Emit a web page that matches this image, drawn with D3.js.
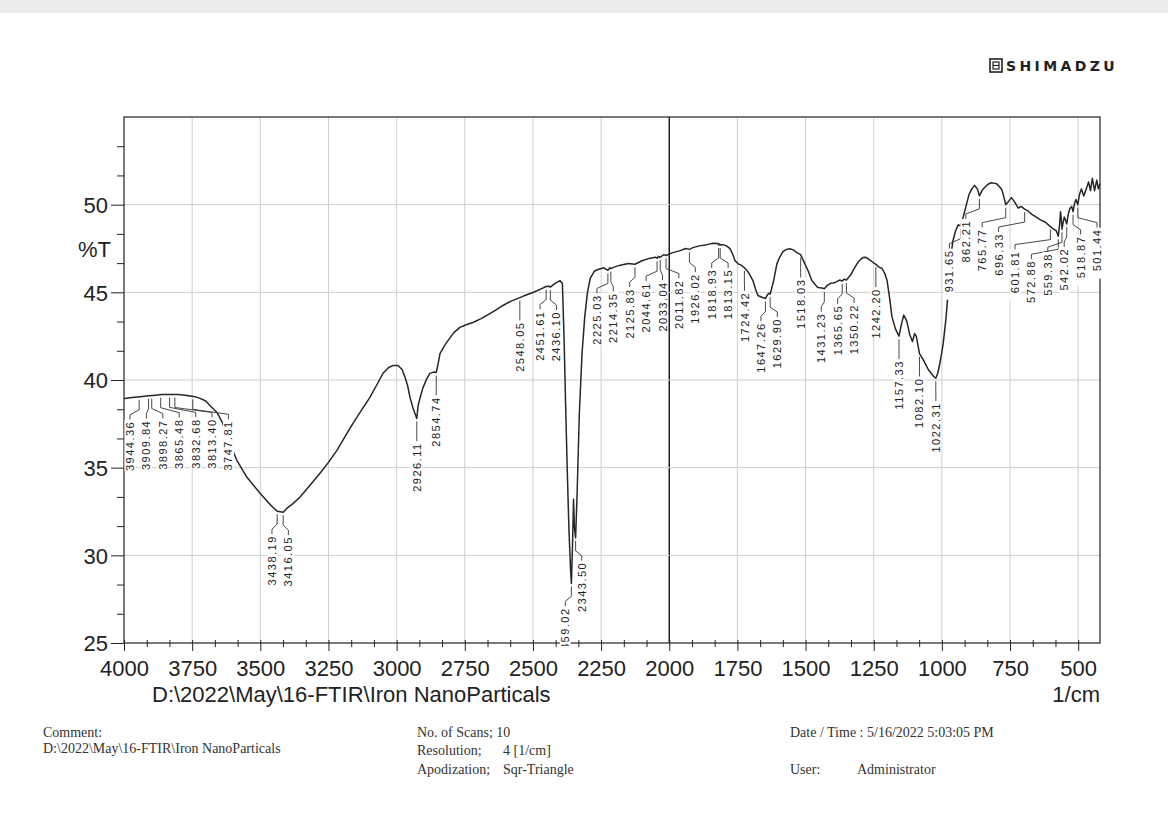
<!DOCTYPE html>
<html>
<head>
<meta charset="utf-8">
<script src="https://cdnjs.cloudflare.com/ajax/libs/d3/7.8.5/d3.min.js"></script>
<style>
  body { margin: 0; background: #fff; }
  svg { display: block; }
</style>
</head>
<body>
<div id="chart"></div>
<script>
// spectrum, wavenumber (1/cm) vs %T
const wavenumber = [
  4000, 3970, 3941, 3910, 3894, 3860, 3831, 3800, 3769, 3740, 3721, 3700, 3685, 3659, 3640, 3622, 3605, 3586,
  3549, 3501, 3470, 3454, 3438.19, 3416.05, 3402, 3380, 3355, 3320, 3281, 3250, 3219, 3190, 3160, 3130, 3098,
  3070, 3050, 3030, 3013, 2995, 2980, 2969, 2960, 2951, 2940, 2926.11, 2921, 2912, 2903, 2890, 2878, 2865,
  2854.74, 2848, 2841, 2825, 2811, 2790, 2768, 2745, 2720, 2690, 2658, 2635, 2610, 2580, 2548.05, 2525, 2500,
  2470, 2451.61, 2440, 2436.10, 2420, 2401, 2392, 2386, 2380, 2374, 2368, 2362, 2359.02, 2355, 2351, 2348,
  2343.50, 2338, 2330, 2320, 2310, 2300, 2290, 2275, 2262, 2240, 2225.03, 2218, 2214.35, 2200, 2180, 2150,
  2125.83, 2100, 2070, 2050, 2044.61, 2038, 2033.04, 2020, 2011.82, 1990, 1960, 1940, 1926.02, 1913, 1890,
  1862, 1840, 1821, 1818.93, 1816, 1813.15, 1803, 1790, 1777, 1768, 1759, 1745, 1736, 1724.42, 1710, 1693,
  1684, 1675, 1660, 1647.26, 1640, 1635, 1629.90, 1618, 1605, 1595, 1583, 1570, 1558, 1545, 1532, 1518.03,
  1503, 1490, 1477, 1465, 1455, 1440, 1431.23, 1420, 1410, 1395, 1385, 1375, 1365.65, 1358, 1350.22, 1334,
  1322, 1311, 1300, 1290, 1280, 1271, 1260, 1252, 1242.20, 1232, 1220, 1210, 1201, 1192, 1183, 1170, 1157.33,
  1148, 1140, 1133, 1128, 1118, 1108, 1100, 1094, 1082.10, 1070, 1060, 1050, 1040, 1030, 1022.31, 1015, 1008,
  1000, 995, 985, 975, 968, 960, 950, 940, 931.65, 925, 915, 900, 890, 880, 870, 862.21, 853, 845, 832, 820,
  800, 790, 780, 772, 765.77, 755, 745, 735, 720, 710, 696.33, 685, 670, 655, 640, 620, 601.81, 590, 580,
  572.88, 568, 565, 562, 559.38, 555, 551, 546, 542.02, 536, 530, 524, 518.87, 513, 508, 501.44, 495, 488,
  480, 470, 462, 455, 448, 440, 432, 426, 420
];
const transmittance = [
  38.95, 39.0, 39.05, 39.1, 39.12, 39.17, 39.18, 39.17, 39.12, 39.05, 38.95, 38.8, 38.55, 38.15, 37.6, 36.85, 36.1, 35.42,
  34.45, 33.54, 33.0, 32.74, 32.52, 32.46, 32.69, 32.95, 33.31, 33.95, 34.68, 35.3, 35.99, 36.75, 37.53, 38.25, 39.01,
  39.8, 40.38, 40.7, 40.83, 40.83, 40.6, 40.15, 39.7, 39.01, 38.4, 37.81, 38.55, 39.1, 39.58, 40.05, 40.38, 40.45,
  40.43, 40.9, 41.51, 41.95, 42.26, 42.7, 43.0, 43.15, 43.28, 43.5, 43.79, 44.0, 44.25, 44.5, 44.70, 44.85, 44.99,
  45.2, 45.33, 45.35, 45.3, 45.5, 45.67, 45.5, 42.5, 38.5, 34.8, 31.5, 29.2, 28.4, 30.5, 33.2, 31.6,
  31.0, 33.5, 38.0, 41.5, 43.6, 45.0, 45.8, 46.2, 46.3, 46.4, 46.25, 46.4, 46.35, 46.45, 46.55, 46.65,
  46.6, 46.8, 46.95, 47.0, 46.95, 47.05, 47.0, 47.15, 47.1, 47.25, 47.38, 47.5, 47.45, 47.55, 47.65,
  47.72, 47.8, 47.78, 47.7, 47.75, 47.7, 47.72, 47.65, 47.49, 47.2, 46.81, 46.6, 46.55, 46.4, 46.15, 45.67,
  45.2, 44.82, 44.72, 44.65, 44.85, 44.95, 44.9, 45.6, 46.64, 47.0, 47.32, 47.45, 47.49, 47.42, 47.27, 47.15,
  46.64, 46.2, 45.67, 45.45, 45.27, 45.25, 45.2, 45.4, 45.5, 45.55, 45.61, 45.7, 45.65, 45.75, 45.7, 46.0,
  46.35, 46.64, 46.85, 46.98, 47.0, 46.92, 46.8, 46.7, 46.6, 46.45, 46.36, 46.1, 45.67, 44.7, 43.6, 42.9, 42.5,
  43.2, 43.7, 43.5, 43.3, 42.6, 42.2, 42.65, 42.5, 41.5, 41.2, 40.9, 40.6, 40.4, 40.2, 40.1, 40.4, 40.9,
  41.6, 42.1, 43.5, 45.4, 46.9, 47.9, 48.5, 48.85, 48.8, 49.1, 49.7, 50.6, 50.9, 51.1, 50.9, 50.5, 50.8, 50.95, 51.15, 51.25,
  51.2, 51.05, 50.85, 50.4, 50.0, 50.2, 50.4, 50.2, 49.8, 49.9, 49.75, 49.65, 49.45, 49.3, 49.15, 49.0, 48.75, 48.6, 48.5,
  48.2, 48.9, 49.6, 49.2, 48.6, 49.0, 49.3, 49.1, 48.9, 49.5, 49.8, 49.9, 49.6, 50.1, 50.3, 50.0, 50.6, 50.9,
  50.5, 50.9, 51.3, 50.8, 51.5, 50.8, 51.4, 50.9, 51.2
];
const peakLabels = [
  3944.36, 3909.84, 3898.27, 3865.48, 3832.68, 3813.40, 3747.81, 3438.19, 3416.05, 2926.11, 2854.74,
  2548.05, 2451.61, 2436.10, 2359.02, 2343.50, 2225.03, 2214.35, 2125.83, 2044.61, 2033.04, 2011.82,
  1926.02, 1818.93, 1813.15, 1724.42, 1647.26, 1629.90, 1518.03, 1431.23, 1365.65, 1350.22, 1242.20,
  1157.33, 1082.10, 1022.31, 931.65, 862.21, 765.77, 696.33, 601.81, 572.88, 559.38, 542.02, 518.87, 501.44
];
const xTickValues = [4000, 3750, 3500, 3250, 3000, 2750, 2500, 2250, 2000, 1750, 1500, 1250, 1000, 750, 500];
const yTickValues = [25, 30, 35, 40, 45, 50];
const xDomain = [4000, 420];
const yDomain = [25, 55];
const filePath = 'D:\\2022\\May\\16-FTIR\\Iron NanoParticals';
const xUnit = '1/cm';
const yUnit = '%T';
const brand = 'SHIMADZU';
const infoKeys = ['No. of Scans; 10', 'Resolution;', 'Apodization;'];
const infoValues = ['', '4 [1/cm]', 'Sqr-Triangle'];
const dateText = 'Date / Time : 5/16/2022 5:03:05 PM';
const userKey = 'User:';
const userName = 'Administrator';

const width = 1168, height = 814;
const margin = { top: 117, right: 68, bottom: 171, left: 124 };
const x0 = margin.left, x1 = width - margin.right;
const y0 = margin.top, y1 = height - margin.bottom;
const sans = '"Liberation Sans", Arial, sans-serif';
const serif = '"Liberation Serif", "Times New Roman", serif';

const svg = d3.select('#chart').append('svg')
  .attr('width', width)
  .attr('height', height);

svg.append('rect').attr('width', width).attr('height', height).attr('fill', '#fff');
svg.append('rect').attr('width', width).attr('height', 13).attr('fill', '#ededed');

const x = d3.scaleLinear().domain(xDomain).range([x0, x1]);
const y = d3.scaleLinear().domain(yDomain).range([y1, y0]);

// gridlines
const grid = svg.append('g');
grid.selectAll('.vg').data(xTickValues.filter(d => d !== 4000))
  .enter().append('line')
  .attr('x1', d => x(d)).attr('x2', d => x(d))
  .attr('y1', y0).attr('y2', y1)
  .attr('stroke', d => d === 2000 ? '#111' : '#cfcfcf')
  .attr('stroke-width', d => d === 2000 ? 1.4 : 1);
grid.selectAll('.hg').data(yTickValues.filter(d => d !== 25))
  .enter().append('line')
  .attr('x1', x0).attr('x2', x1)
  .attr('y1', d => y(d)).attr('y2', d => y(d))
  .attr('stroke', '#cfcfcf')
  .attr('stroke-width', 1);

// frame + axes
svg.append('rect')
  .attr('x', x0).attr('y', y0)
  .attr('width', x1 - x0).attr('height', y1 - y0)
  .attr('fill', 'none').attr('stroke', '#222').attr('stroke-width', 1.2);

const xMinor = d3.range(4000, 420, -250 / 3).filter(v => Math.abs(v % 250) > 1 && Math.abs(v % 250) < 249);
const yMinor = d3.range(25, 55.01, 5 / 3).filter(v => Math.abs(v % 5) > 0.1 && Math.abs(v % 5) < 4.9);

const xAxis = svg.append('g')
  .attr('transform', 'translate(0,' + y1 + ')')
  .call(d3.axisBottom(x).tickValues(xTickValues).tickSize(8).tickPadding(8).tickFormat(d3.format('d')));
xAxis.select('.domain').remove();
xAxis.selectAll('.tick line').attr('y1', -3).attr('stroke', '#222');
xAxis.selectAll('.tick text')
  .attr('y', 33).attr('dy', 0)
  .style('font-family', sans).style('font-size', '22px').attr('fill', '#222');

const xAxisMinor = svg.append('g')
  .attr('transform', 'translate(0,' + y1 + ')')
  .call(d3.axisBottom(x).tickValues(xMinor).tickSize(4).tickFormat(''));
xAxisMinor.select('.domain').remove();
xAxisMinor.selectAll('.tick line').attr('y1', -3).attr('stroke', '#222');

const yAxis = svg.append('g')
  .attr('transform', 'translate(' + x0 + ',0)')
  .call(d3.axisLeft(y).tickValues(yTickValues).tickSize(13).tickPadding(3).tickFormat(d3.format('d')));
yAxis.select('.domain').remove();
yAxis.selectAll('.tick line').attr('stroke', '#222');
yAxis.selectAll('.tick text')
  .attr('dy', '0.36em')
  .style('font-family', sans).style('font-size', '22px').attr('fill', '#222');

const yAxisMinor = svg.append('g')
  .attr('transform', 'translate(' + x0 + ',0)')
  .call(d3.axisLeft(y).tickValues(yMinor).tickSize(7).tickFormat(''));
yAxisMinor.select('.domain').remove();
yAxisMinor.selectAll('.tick line').attr('stroke', '#222');

svg.append('text')
  .attr('x', x0 - 13).attr('y', y(47.5) + 8)
  .attr('text-anchor', 'end')
  .style('font-family', sans).style('font-size', '22px').attr('fill', '#222')
  .text(yUnit);

svg.append('text')
  .attr('x', 152).attr('y', 702)
  .style('font-family', sans).style('font-size', '22px').attr('fill', '#222')
  .text(filePath);
svg.append('text')
  .attr('x', x1).attr('y', 702)
  .attr('text-anchor', 'end')
  .style('font-family', sans).style('font-size', '22px').attr('fill', '#222')
  .text(xUnit);

// spectrum
const spectrum = wavenumber.map((w, i) => ({ w: w, t: transmittance[i] }));
const line = d3.line().x(d => x(d.w)).y(d => y(d.t));
svg.append('path')
  .datum(spectrum)
  .attr('fill', 'none')
  .attr('stroke', '#262626')
  .attr('stroke-width', 1.5)
  .attr('stroke-linejoin', 'round')
  .attr('d', line);

// peak labels
function tAt(w) {
  for (let i = 0; i < wavenumber.length - 1; i++) {
    if (w <= wavenumber[i] && w >= wavenumber[i + 1]) {
      const f = (wavenumber[i] - w) / (wavenumber[i] - wavenumber[i + 1]);
      return transmittance[i] + f * (transmittance[i + 1] - transmittance[i]);
    }
  }
  return transmittance[transmittance.length - 1];
}

const labelLen = 51, gap = 16.4, drop = 22;
const labels = peakLabels.map(w => {
  const px = x(w), py = y(tAt(w));
  return { w: w, px: px, py: py, lx: px, top: py + drop, bottom: py + drop + labelLen };
});
for (let k = 0; k < 400; k++) {
  for (let i = 0; i < labels.length; i++) {
    for (let j = i + 1; j < labels.length; j++) {
      const a = labels[i], b = labels[j];
      if (a.top < b.bottom && b.top < a.bottom && b.lx - a.lx < gap) {
        const d = (gap - (b.lx - a.lx)) / 2;
        a.lx -= d; b.lx += d;
      }
    }
  }
  labels.forEach(l => { l.lx = Math.max(x0 + 6, Math.min(x1 - 3, l.lx)); });
}

svg.append('clipPath').attr('id', 'plotclip')
  .append('rect').attr('x', x0 - 2).attr('y', y0).attr('width', x1 - x0 + 4).attr('height', y1 - y0 + 3);

const lg = svg.append('g').attr('clip-path', 'url(#plotclip)');
lg.selectAll('.leader').data(labels)
  .enter().append('path')
  .attr('fill', 'none')
  .attr('stroke', '#333')
  .attr('stroke-width', 0.9)
  .attr('d', d => 'M' + d.px + ',' + (d.py + 3) + 'V' + (d.top - 9) + 'L' + d.lx + ',' + (d.top - 4) + 'V' + (d.top + 1));
lg.selectAll('.lbg').data(labels)
  .enter().append('rect')
  .attr('x', d => d.lx - 5.5).attr('y', d => d.top + 1)
  .attr('width', 11).attr('height', labelLen)
  .attr('fill', '#fff');
lg.selectAll('.lbl').data(labels)
  .enter().append('text')
  .attr('transform', d => 'translate(' + (d.lx + 4) + ',' + (d.top + 2) + ') rotate(-90)')
  .attr('text-anchor', 'end')
  .style('font-family', sans).style('font-size', '11px').style('letter-spacing', '1.5px')
  .attr('fill', '#222')
  .text(d => d3.format('.2f')(d.w));

// logo
const logo = svg.append('g').attr('transform', 'translate(990,59)');
logo.append('rect').attr('width', 12).attr('height', 13).attr('fill', 'none').attr('stroke', '#222').attr('stroke-width', 1.6);
logo.append('rect').attr('x', 3).attr('y', 3).attr('width', 6).attr('height', 7).attr('fill', 'none').attr('stroke', '#222').attr('stroke-width', 1.2);
logo.append('line').attr('x1', 3).attr('x2', 9).attr('y1', 6.5).attr('y2', 6.5).attr('stroke', '#222').attr('stroke-width', 1.2);
svg.append('text')
  .attr('x', 1006).attr('y', 71)
  .style('font-family', '"DejaVu Sans", sans-serif').style('font-weight', 'bold')
  .style('font-size', '14px').style('letter-spacing', '3.4px')
  .attr('fill', '#222')
  .text(brand);

// footer
const foot = svg.append('g')
  .style('font-family', serif).style('font-size', '14px').attr('fill', '#333');
foot.append('text').attr('x', 43).attr('y', 737).text('Comment:');
foot.append('text').attr('x', 43).attr('y', 753).text(filePath);
foot.selectAll('.ik').data(infoKeys).enter().append('text')
  .attr('x', 417).attr('y', (d, i) => [737, 755, 774][i]).text(d => d);
foot.selectAll('.iv').data(infoValues).enter().append('text')
  .attr('x', 503).attr('y', (d, i) => [737, 755, 774][i]).text(d => d);
foot.append('text').attr('x', 790).attr('y', 737).text(dateText);
foot.append('text').attr('x', 790).attr('y', 774).text(userKey);
foot.append('text').attr('x', 857).attr('y', 774).text(userName);
</script>
</body>
</html>
